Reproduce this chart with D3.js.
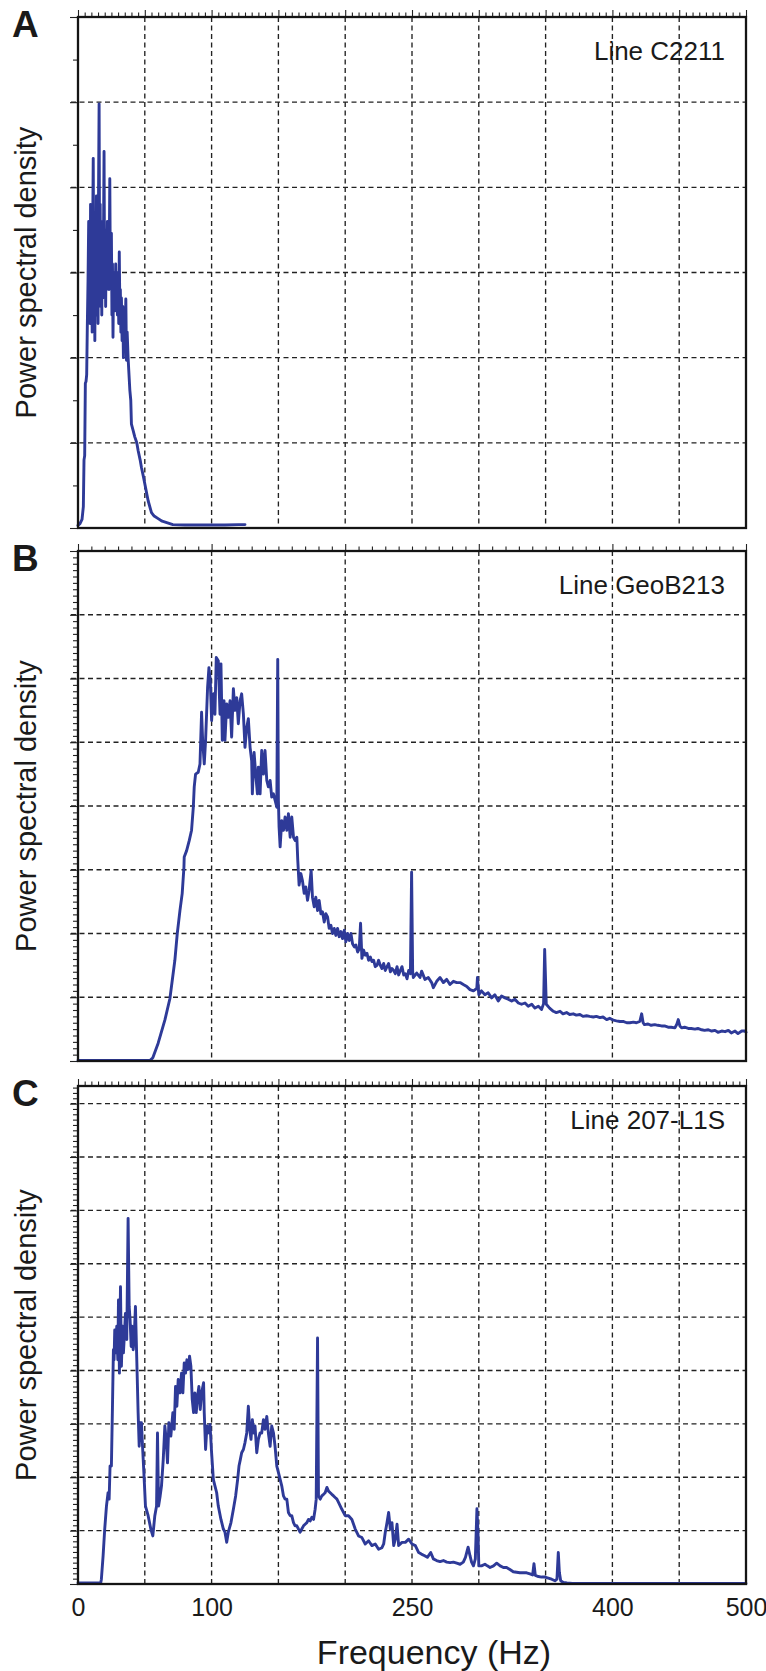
<!DOCTYPE html>
<html>
<head>
<meta charset="utf-8">
<script src="https://cdn.jsdelivr.net/npm/d3@7"></script>
<style>
  body { margin: 0; background: #fff; }
  svg { display: block; }
  text { font-family: Arial, "Liberation Sans", Helvetica, sans-serif; fill: #1a1a1a; }
</style>
</head>
<body>
<script>
// values: [frequency Hz, PSD in grid divisions]
var specA = [[0,0.03],[1.5,0.05],[3,0.1],[4,0.25],[4.5,0.8],[5,0.85],[5.5,1.7],[6,1.72],[6.5,1.8],[7,2.4],[7.5,2.9],
  [8,3.6],[8.3,2.5],[8.7,3.3],[9,2.4],[9.4,3.8],[9.8,2.6],[10.2,3.2],[10.6,2.3],[11,3.5],[11.4,4.34],[11.8,2.8],[12.2,3.7],
  [12.6,2.2],[13,3.3],[13.4,2.5],[13.8,3.9],[14.2,2.6],[14.6,3.6],[15,2.4],[15.4,4.0],[15.8,4.98],[16.2,3.0],[16.6,3.8],
  [17,2.6],[17.4,3.4],[17.8,2.5],[18.2,3.6],[18.6,2.7],[19,3.2],[19.5,4.42],[19.9,2.9],[20.3,3.5],[20.7,2.6],[21.1,3.3],
  [21.5,2.8],[22,3.6],[22.4,2.9],[22.8,3.5],[23.2,2.8],[23.8,4.1],[24.2,3.0],[24.6,3.3],[25,3.46],[25.4,2.5],[25.8,3.1],
  [26.2,2.24],[26.6,2.9],[27,2.6],[27.4,3.0],[27.8,2.55],[28.2,3.1],[28.6,2.7],[29,2.95],[29.5,2.5],[30,3.0],[30.5,2.4],
  [30.9,3.24],[31.3,2.6],[31.7,2.8],[32.1,2.3],[32.5,2.7],[33,2.2],[33.5,2.6],[34,2.0],[34.5,2.5],[35,2.1],[35.8,2.69],
  [36.3,1.97],[36.8,2.3],[37.5,2.0],[38,1.85],[38.8,1.62],[39.5,1.5],[40,1.22],[41.2,1.15],[42.5,1.07],[44,1.0],[45,0.91],
  [46.5,0.8],[47.5,0.71],[49,0.6],[50,0.52],[51.5,0.4],[52.5,0.32],[55,0.18],[57,0.14],[60,0.11],[63,0.08],[67,0.06],
  [71,0.04],[80,0.035],[90,0.035],[100,0.035],[110,0.035],[120,0.04],[125,0.04]];

var specB = [[0,0.01],[20,0.01],[40,0.01],[54,0.01],[56,0.05],[60,0.28],[65,0.64],[68.8,0.98],[72.5,1.58],[74.3,2.0],
  [76.3,2.36],[78,2.63],[79.3,3.04],[79.5,3.2],[81.3,3.3],[83.3,3.46],[85,3.62],[86.3,3.98],[87,4.3],[88,4.5],[90,4.53],
  [91.3,4.66],[92.5,5.47],[93.3,5.03],[94.5,4.66],[95.5,5.03],[97,5.86],[98,6.17],[99,5.97],[100,5.34],[101.3,5.76],
  [102.5,5.44],[103.5,6.33],[105,6.28],[106.3,5.44],[107,6.23],[108,5.03],[109.3,5.65],[110,5.03],[111.3,5.6],[112.5,5.39],
  [113.8,5.65],[115,5.08],[116.3,5.84],[117.5,5.5],[118.8,5.7],[120,5.29],[121.3,5.65],[122.5,5.76],[123.8,5.44],[125,4.92],
  [126.3,5.23],[127.5,5.37],[128.8,4.92],[130,4.71],[130.5,4.19],[131.8,4.84],[133,4.5],[134.3,4.19],[135,4.61],[136.3,4.19],
  [137.5,4.87],[138.8,4.5],[140,4.87],[141.3,4.4],[142.5,4.3],[143.8,4.4],[145,4.14],[146.3,4.19],[147.5,4.09],[148.8,3.98],
  [149.5,6.3],[150,4.09],[150.5,3.67],[151.3,3.36],[152.5,3.77],[153.8,3.62],[155,3.83],[156.3,3.62],[157.5,3.88],[158.8,3.51],
  [160,3.83],[161.3,3.51],[162.5,3.46],[163.8,3.51],[164.5,3.15],[165.5,2.76],[166.8,2.94],[168,2.83],[169.3,2.63],[170.5,2.73],
  [171.8,2.52],[173,2.68],[174.5,2.99],[175.5,2.57],[176.8,2.42],[178,2.57],[179.3,2.36],[180.5,2.52],[181.8,2.31],[183,2.34],
  [184.3,2.18],[185.5,2.31],[186.8,2.26],[188,2.08],[189.3,2.13],[190.5,2.0],[191.8,2.08],[193,1.97],[194.3,2.08],[195.5,1.95],
  [196.8,2.03],[198,1.92],[199.3,2.05],[200.5,1.87],[201.8,2.0],[203,1.89],[204.3,2.0],[205.5,1.84],[206.8,1.79],[208,1.82],
  [209.3,1.71],[210.5,1.76],[211.5,2.16],[212.5,1.61],[213.8,1.74],[215,1.66],[216.3,1.69],[217.5,1.58],[218.8,1.63],[220,1.56],
  [221.3,1.58],[222.5,1.48],[223.8,1.5],[225,1.58],[226.3,1.5],[227.5,1.45],[228.8,1.53],[230,1.42],[231.3,1.48],[232.5,1.53],
  [233.8,1.4],[235,1.45],[236.3,1.42],[237.5,1.37],[238.8,1.48],[240,1.35],[241.3,1.42],[242.5,1.48],[243.8,1.35],[245,1.37],
  [246.3,1.29],[247.5,1.42],[248.8,1.37],[249.7,2.96],[250.5,1.4],[251,1.31],[253.5,1.38],[256,1.31],[257.2,1.41],[259.7,1.28],
  [262.2,1.31],[264.7,1.23],[266,1.15],[268.5,1.25],[271,1.31],[273.5,1.23],[276,1.28],[278.4,1.2],[281,1.25],[283.5,1.23],
  [286,1.23],[288.4,1.2],[291,1.17],[293.4,1.12],[296,1.1],[298.5,1.14],[299,1.31],[300,1.04],[302,1.1],[304.6,1.04],
  [307,1.07],[309.6,0.99],[312,1.04],[314.6,0.94],[317,1.02],[319.6,0.99],[322,0.97],[324.6,0.94],[327,0.97],[329.6,0.91],
  [332,0.89],[334.6,0.91],[337,0.86],[339.6,0.89],[342,0.83],[344.6,0.86],[347,0.81],[348.5,0.9],[349.3,1.75],[350.5,0.89],
  [353,0.83],[355.8,0.78],[358,0.76],[360.8,0.78],[363,0.74],[365.7,0.76],[368,0.73],[370.7,0.74],[373,0.72],[375.7,0.73],
  [378,0.7],[380.7,0.71],[383,0.7],[385.7,0.69],[388,0.7],[390.7,0.68],[393,0.69],[395.7,0.65],[398,0.67],[400.7,0.64],
  [403,0.63],[405.7,0.62],[408,0.62],[410.7,0.6],[413,0.6],[415.7,0.61],[418,0.6],[420.5,0.62],[421.9,0.74],[423,0.6],
  [424,0.57],[426.7,0.58],[429,0.56],[431.7,0.57],[434,0.56],[436.7,0.55],[439,0.55],[441.7,0.53],[444,0.53],[446.8,0.52],
  [448.3,0.58],[449.3,0.65],[450.5,0.55],[451.8,0.52],[454,0.53],[456.8,0.51],[459,0.51],[461.8,0.5],[464,0.51],[466.8,0.49],
  [469,0.48],[471.8,0.49],[474.3,0.47],[476.8,0.48],[479,0.45],[481.8,0.47],[484.3,0.46],[486.8,0.48],[489,0.44],[491.8,0.47],
  [494,0.43],[496.8,0.47],[499,0.47],[500,0.45]];

var specC = [[0,0.02],[10,0.02],[17,0.02],[17.5,0.09],[18.8,0.53],[20,1.03],[21.3,1.46],[22.5,1.71],[23.3,1.59],[24,2.21],
  [25,2.21],[25.8,3.33],[26.5,4.39],[27,4.2],[27.5,4.76],[28.3,4.33],[29,4.83],[29.8,4.2],[30.3,5.32],[31,3.95],[31.8,5.57],
  [32.5,4.08],[33.3,4.83],[34,4.33],[34.8,4.7],[35.5,5.07],[36.5,4.58],[37.5,6.85],[38.3,5.2],[39,4.95],[39.8,4.45],[40.5,4.83],
  [41.3,4.39],[42,4.58],[43,5.2],[44,4.2],[45,3.21],[45.8,2.58],[46.5,3.02],[47.5,3.02],[48.3,2.58],[49.3,2.09],[50.5,1.46],
  [52.5,1.28],[54.5,1.03],[56,0.9],[57.5,1.28],[58.8,1.46],[59.5,2.83],[60.3,1.46],[61.5,1.65],[62.5,1.84],[63.8,2.33],
  [65,2.96],[66,2.71],[67,2.27],[68,3.02],[69.5,2.77],[71,3.21],[72,2.9],[73,3.7],[74,3.33],[75,3.83],[76.3,3.58],[77.5,3.95],
  [78.5,3.58],[79.5,4.14],[80.5,3.95],[81.5,4.2],[82.5,4.02],[83.5,4.27],[84.5,4.08],[85.5,3.46],[86.5,3.21],[87.5,3.58],
  [88.5,3.21],[89.5,3.52],[90.5,3.7],[91.5,3.27],[92.5,3.58],[94,3.77],[94.5,3.21],[95.5,2.52],[96.5,2.96],[97.5,2.83],
  [98.8,2.99],[100,2.46],[101.3,1.96],[102.5,1.84],[103.8,1.71],[105,1.46],[107,1.21],[108.8,1.03],[110,0.97],[111.3,0.78],
  [112.5,0.97],[114.5,1.15],[116.3,1.4],[118,1.65],[119.5,1.96],[120.5,2.21],[121.5,2.33],[122.5,2.46],[123.8,2.52],[125,2.65],
  [126.3,2.83],[127.5,3.33],[128.5,2.9],[129.5,2.71],[130.5,3.08],[131.5,2.83],[132.5,2.96],[133.8,2.46],[135,2.71],[136.3,2.83],
  [137.5,2.83],[138.8,3.08],[140,2.9],[141.3,3.14],[142.5,2.83],[143.8,2.58],[145,2.96],[146.3,2.83],[147.5,2.58],[148.8,2.21],
  [150,2.09],[151.3,1.96],[152.5,1.84],[153.8,1.65],[155,1.59],[156.3,1.59],[157.5,1.34],[158.8,1.28],[160,1.28],[161.3,1.15],
  [162.5,1.09],[163.8,1.09],[165,1.03],[166.3,0.97],[167.5,1.03],[168.8,1.09],[170,1.12],[171.3,1.15],[172.5,1.21],[173.8,1.18],
  [175,1.25],[176.3,1.21],[177.5,1.4],[178.3,1.59],[179.3,4.61],[180,1.65],[181.3,1.59],[182.5,1.65],[183.8,1.68],[185,1.71],
  [186.3,1.81],[187.5,1.74],[188.8,1.71],[190,1.68],[191.3,1.65],[192.5,1.62],[193.8,1.59],[195,1.53],[197.5,1.4],[200,1.28],
  [202.5,1.28],[205,1.21],[207.5,1.03],[210,0.9],[212.5,0.87],[215,0.75],[217.5,0.81],[220,0.72],[222.5,0.75],[225,0.65],
  [227.5,0.68],[228.8,0.75],[230,0.97],[231.3,1.15],[232.5,1.34],[233.8,1.03],[235,1.15],[236.3,0.72],[237.5,0.84],[238.8,1.12],
  [240,0.72],[242.5,0.78],[245,0.78],[247.5,0.84],[250,0.75],[252.5,0.72],[255,0.59],[257,0.56],[259.5,0.53],[261.5,0.5],
  [264,0.59],[266,0.47],[268.4,0.44],[271,0.42],[273.5,0.44],[276,0.41],[278.5,0.4],[281,0.41],[283.5,0.39],[286,0.37],
  [288.4,0.41],[290,0.5],[292,0.69],[293.4,0.53],[294.6,0.41],[296,0.34],[297.4,0.47],[298.6,1.41],[299.4,0.97],[300,0.34],
  [302,0.34],[304.6,0.37],[306.4,0.34],[308.4,0.31],[311,0.34],[313.4,0.39],[316,0.34],[318.4,0.31],[320.8,0.31],[323.3,0.27],
  [325.8,0.23],[328.3,0.22],[330.8,0.21],[333.3,0.21],[335.8,0.21],[338.3,0.19],[340.3,0.17],[341.3,0.38],[342.3,0.16],
  [344.6,0.14],[347,0.13],[349.5,0.13],[352,0.11],[354.5,0.09],[357,0.06],[358.5,0.09],[359.5,0.59],[360.3,0.22],[361.3,0.06],
  [363.3,0.03],[366,0.02],[370,0.01],[400,0.01],[450,0.01],[500,0.01]];

var panelLetters = ["A", "B", "C"];
var lineNames = ["Line C2211", "Line GeoB213", "Line 207-L1S"];
var freqTicks = [0, 100, 250, 400, 500];
var freqDomain = [0, 500];

var W = 766, H = 1671;
var left = 78, right = 746;

var svg = d3.select("body").append("svg")
    .attr("width", W).attr("height", H);

var x = d3.scaleLinear().domain(freqDomain).range([left, right]);

var panels = [
  { data: specA, top: 17,  bottom: 528,  yMax: 6,    gridX: 50,  topStep: 5,  minorPerDiv: 2 },
  { data: specB, top: 551, bottom: 1061, yMax: 8,    gridX: 100, topStep: 10, minorPerDiv: 10 },
  { data: specC, top: 1086, bottom: 1584, yMax: 9.33, gridX: 50, topStep: 5,  minorPerDiv: 10 }
];

panels.forEach(function (p, i) {
  var y = d3.scaleLinear().domain([0, p.yMax]).range([p.bottom, p.top]);
  var g = svg.append("g");

  // dashed grid
  var grid = g.append("g")
      .attr("stroke", "#222").attr("stroke-width", 1.35)
      .attr("stroke-dasharray", "5,3.5").attr("fill", "none");
  d3.range(p.gridX, 500, p.gridX).forEach(function (f) {
    grid.append("line").attr("x1", x(f)).attr("x2", x(f))
      .attr("y1", p.top).attr("y2", p.bottom);
  });
  d3.range(1, Math.floor(p.yMax - 0.01) + 1).forEach(function (v) {
    grid.append("line").attr("x1", left - 7).attr("x2", right)
      .attr("y1", y(v)).attr("y2", y(v));
  });

  // top ticks (pointing up)
  var topTicks = d3.range(0, 500 + 0.1, p.topStep);
  g.append("g")
    .attr("transform", "translate(0," + p.top + ")")
    .call(d3.axisTop(x).tickValues(topTicks).tickFormat("")
      .tickSize(4.5).tickSizeOuter(0))
    .call(function (a) { a.select(".domain").remove(); })
    .selectAll(".tick line")
      .attr("stroke", "#222").attr("stroke-width", 1.1)
      .attr("y2", function (d) { return d % p.gridX === 0 ? -7 : -4.5; });

  // left ticks (pointing out)
  var leftTicks = d3.range(0, Math.floor(p.yMax * p.minorPerDiv) + 1)
      .map(function (k) { return k / p.minorPerDiv; });
  g.append("g")
    .attr("transform", "translate(" + left + ",0)")
    .call(d3.axisLeft(y).tickValues(leftTicks).tickFormat("")
      .tickSize(5).tickSizeOuter(0))
    .call(function (a) { a.select(".domain").remove(); })
    .selectAll(".tick line")
      .attr("stroke", "#222").attr("stroke-width", 1.1)
      .attr("x2", function (d) { return Math.abs(d - Math.round(d)) < 1e-6 ? -8 : -5; });

  // curve
  var line = d3.line()
      .x(function (d) { return x(d[0]); })
      .y(function (d) { return y(d[1]); });
  g.append("path").datum(p.data)
    .attr("d", line)
    .attr("fill", "none")
    .attr("stroke", "#2e3a98")
    .attr("stroke-width", 2.9)
    .attr("stroke-linejoin", "round")
    .attr("stroke-linecap", "round");

  // frame
  g.append("rect")
    .attr("x", left).attr("y", p.top)
    .attr("width", right - left).attr("height", p.bottom - p.top)
    .attr("fill", "none").attr("stroke", "#141414").attr("stroke-width", 2.3);

  // labels
  g.append("text")
    .attr("x", 12).attr("y", p.top + 20)
    .attr("font-size", 37).attr("font-weight", "bold")
    .text(panelLetters[i]);

  g.append("text")
    .attr("x", 725).attr("y", p.top + 43)
    .attr("text-anchor", "end")
    .attr("font-size", 26)
    .text(lineNames[i]);

  g.append("text")
    .attr("transform", "translate(36," + ((p.top + p.bottom) / 2) + ") rotate(-90)")
    .attr("text-anchor", "middle")
    .attr("font-size", 29)
    .text("Power spectral density");

  if (i === panels.length - 1) {
    var ax = g.append("g")
      .attr("transform", "translate(0," + p.bottom + ")")
      .call(d3.axisBottom(x).tickValues(freqTicks).tickSize(0).tickPadding(14)
        .tickFormat(d3.format("d")));
    ax.select(".domain").remove();
    ax.selectAll("text").attr("font-size", 25)
      .attr("font-family", 'Arial, "Liberation Sans", sans-serif').attr("fill", "#1a1a1a");

    g.append("text")
      .attr("x", 434).attr("y", p.bottom + 80)
      .attr("text-anchor", "middle")
      .attr("font-size", 34)
      .text("Frequency (Hz)");
  }
});
</script>
</body>
</html>
